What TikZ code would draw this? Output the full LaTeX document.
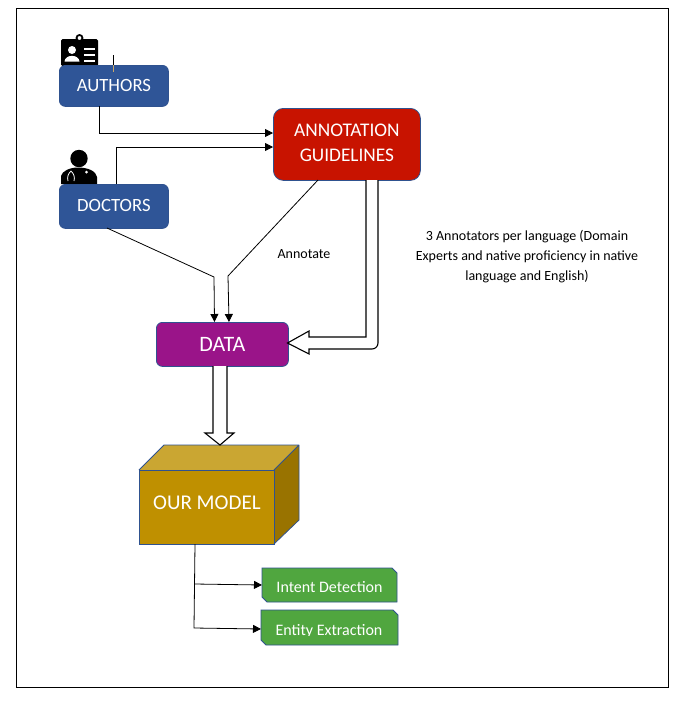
\documentclass[tikz,border=0pt]{standalone}
\usepackage{fontspec}
\setmainfont{Carlito}
\usetikzlibrary{arrows.meta}
\definecolor{edgeblue}{HTML}{2F528F}
\definecolor{boxblue}{HTML}{2F5597}
\definecolor{boxred}{HTML}{C81300}
\definecolor{boxpurple}{HTML}{9A1489}
\definecolor{goldfront}{HTML}{BF9000}
\definecolor{goldtop}{HTML}{CAA632}
\definecolor{goldside}{HTML}{997300}
\definecolor{boxgreen}{HTML}{50A63F}
\definecolor{ticktan}{HTML}{C9A86A}
\tikzset{
  x=1pt,y=-1pt,
  rbox/.style={rounded corners=6pt,draw=edgeblue,line width=0.8pt,text=white,align=center,inner sep=0pt,anchor=north west,font=\fontsize{18.7}{25}\selectfont},
  conn/.style={draw=black,line width=0.8pt},
  arr/.style={conn,-{Triangle[length=8pt,width=8pt]}},
  hollow/.style={draw=black,fill=white,line width=1.1pt,line join=miter},
  snip/.style={draw=edgeblue,fill=boxgreen,line width=0.8pt},
  tag/.style={text=white,inner sep=0pt,font=\fontsize{16}{18}\selectfont},
  note/.style={text=black,align=center,inner sep=0pt,font=\fontsize{14}{20}\selectfont}
}
\begin{document}
\begin{tikzpicture}
\useasboundingbox (0,0) rectangle (682,702);
\fill[white] (0,0) rectangle (682,702);
\draw[black,line width=0.8pt] (16,8) rectangle (668,687);

% authors icon
\fill[black,rounded corners=1.5pt] (61,39) rectangle (98,66);
\draw[black,fill=white,line width=1.8pt] (79.5,38) circle (3pt);
\fill[white] (72,50) circle (4pt);
\fill[white] (64.5,61.5) .. controls (65,54) and (79,54) .. (79.5,61.5) -- cycle;
\fill[white] (84,48) rectangle (95,50);
\fill[white] (84,54) rectangle (95,56);
\fill[white] (84,60) rectangle (95,62);
% doctors icon
\fill[black] (79,158.5) circle (8.7pt);
\fill[black] (61,184) -- (61,176) .. controls (62,171) and (70,167.5) .. (78,167.5) .. controls (88,167.5) and (96,171) .. (97,177) -- (97,184) -- cycle;
\draw[white,line width=0.8pt] (71,171) .. controls (68,174) and (67,177) .. (68,181) (71,171) .. controls (74,174) and (75,177) .. (74,181);
\fill[white] (86.5,172) circle (1.5pt);

% nodes
\node[rbox,fill=boxblue,minimum width=109pt,minimum height=41pt] (authors) at (59,65) {\raisebox{0.5pt}{AUTHORS}};
\node[rbox,fill=boxblue,minimum width=109pt,minimum height=44pt] (doctors) at (59,184) {\raisebox{1.5pt}{DOCTORS}};
\node[rbox,fill=boxred,rounded corners=10pt,minimum width=147pt,minimum height=72pt,font=\fontsize{19.3}{25}\selectfont] (guide) at (273,108) {\raisebox{3.5pt}{ANNOTATION}\\\raisebox{3pt}{GUIDELINES}};
\node[rbox,fill=boxpurple,minimum width=132pt,minimum height=44pt,font=\fontsize{22}{26}\selectfont] (data) at (156,322) {DATA};

% cube
\fill[goldtop] (139,470) -- (164,445) -- (299,445) -- (274,470) -- cycle;
\fill[goldside] (274,470) -- (299,445) -- (299,520) -- (274,544) -- cycle;
\node[rbox,rounded corners=0pt,fill=goldfront,minimum width=135pt,minimum height=74pt,font=\fontsize{21}{25}\selectfont] (model) at (139,470) {\raisebox{10pt}{OUR MODEL}};
\draw[edgeblue,line width=0.8pt,line join=round] (139,470) -- (164,445) -- (299,445) -- (299,520) -- (274,544) (299,445) -- (274,470);

% outputs
\draw[snip] (262,568) -- (392,568) -- (397,573) -- (397,602) -- (267,602) -- (262,597) -- cycle;
\draw[snip] (261,610) -- (393,610) -- (398,615) -- (398,645) -- (266,645) -- (261,640) -- cycle;
\node[tag] (intent) at (329.5,587) {Intent Detection};
\begin{scope}
\clip (262,611) rectangle (397,635.5);
\node[tag] (entity) at (329,631) {Entity Extraction};
\end{scope}
\coordinate (intentin) at (262,585);
\coordinate (entityin) at (261,629);

% notes
\node[note] (annotate) at (304,254) {Annotate};
\node[note] (annotators) at (527,257) {3 Annotators per language (Domain\\Experts and native proficiency in native\\language and English)};

% named bends
\coordinate (a0) at (99,106);
\coordinate (a1) at (99,133);
\coordinate (g1) at (273,133);
\coordinate (d0) at (116,184);
\coordinate (d1) at (116,147);
\coordinate (g2) at (273,147);
\coordinate (d2) at (107,228);
\coordinate (d3) at (214,277);
\coordinate (d4) at (214.5,322);
\coordinate (g3) at (318,180);
\coordinate (g4) at (228,276);
\coordinate (d5) at (229,322);
\coordinate (m0) at (195,544);
\coordinate (mb) at (194.5,584);
\coordinate (m1) at (194,628);
\coordinate (t0) at (113.5,55);
\coordinate (t1) at (113.5,65);
\coordinate (t2) at (113.5,72);

\draw[conn] (t0) -- (t1);
\draw[ticktan,line width=0.6pt] (t1) -- (t2);
\draw[arr] (a0) -- (a1) -- (g1);
\draw[arr] (d0) -- (d1) -- (g2);
\draw[arr] (d2) -- (d3) -- (d4);
\draw[arr] (g3) -- (g4) -- (d5);
\draw[arr] (m0) -- (m1) -- (entityin);
\draw[arr] (mb) -- (intentin);

% hollow arrows
\draw[hollow] (366,180) -- (366,337) -- (309,337) -- (309,331) -- (287.5,343) -- (309,354) -- (309,349)
  -- (371,349) [rounded corners=6pt] -- (378,349) -- (378,180);
\draw[hollow] (213,366) -- (213,433) -- (205,433) -- (220,445) -- (234,433) -- (227,433) -- (227,366);
\end{tikzpicture}
\end{document}
